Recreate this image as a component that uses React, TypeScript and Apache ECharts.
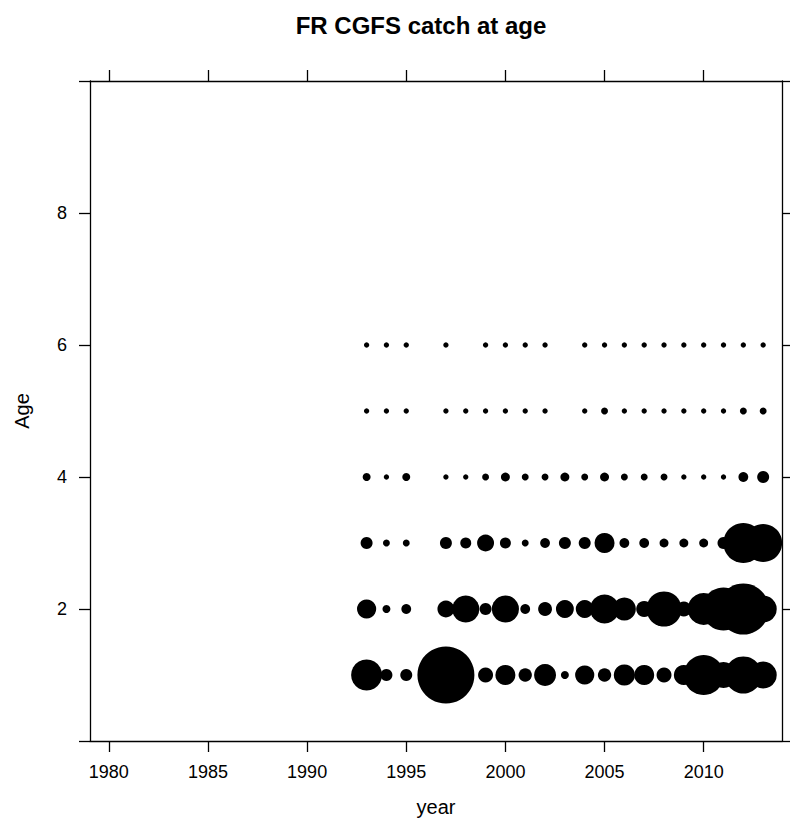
import React, { useEffect, useRef } from "react";
import * as echarts from "echarts";

// Survey years (1996 has no survey) and catch-at-age index per age class
const years = [1993, 1994, 1995, 1996, 1997, 1998, 1999, 2000, 2001, 2002, 2003, 2004, 2005, 2006, 2007, 2008, 2009, 2010, 2011, 2012, 2013];
const ages = [1, 2, 3, 4, 5, 6];
const age1 = [60, 9, 9, null, 203, 9, 14, 25, 11, 30, 4, 23, 11, 28, 25, 14, 25, 100, 42, 86, 46];
const age2 = [23, 4, 6, null, 18, 46, 9, 46, 6, 12, 20, 20, 53, 33, 16, 77, 14, 64, 116, 163, 46];
const age3 = [9, 3, 3, null, 9, 7.5, 18, 7.5, 3, 6, 9, 9, 25, 6, 6, 5, 5, 5, 9, 100, 90];
const age4 = [4, 1.8, 4, null, 1.8, 1.8, 3, 5, 3, 3, 5, 3, 5, 3, 3, 3, 1.8, 1.8, 1.8, 6, 9];
const age5 = [1.8, 1.8, 1.8, null, 1.8, 1.8, 1.8, 1.8, 1.8, 1.8, null, 1.8, 3, 1.8, 1.8, 1.8, 1.8, 1.8, 1.8, 3, 3];
const age6 = [1.8, 1.8, 1.8, null, 1.8, null, 1.8, 1.8, 1.8, 1.8, null, 1.8, 1.8, 1.8, 1.8, 1.8, 1.8, 1.8, 1.8, 1.8, 1.8];

const xTicks = [1980, 1985, 1990, 1995, 2000, 2005, 2010];
const yTicks = [0, 2, 4, 6, 8, 10];
const yLabels = [2, 4, 6, 8];

export default function App() {
  const ref = useRef<HTMLDivElement>(null);

  useEffect(() => {
    document.body.style.margin = "0";
    if (!ref.current) return;
    const chart = echarts.init(ref.current, undefined, { renderer: "svg" });

    const rows = [age1, age2, age3, age4, age5, age6];
    const points: number[][] = [];
    rows.forEach((row, i) => {
      row.forEach((v, j) => {
        if (v != null) points.push([years[j], ages[i], v]);
      });
    });

    const font = "'Liberation Sans', Arial, sans-serif";
    const line = { lineStyle: { color: "#000", width: 1.3 } };
    const tick = { show: true, inside: false, length: 11, lineStyle: { color: "#000", width: 1.3 } };

    chart.setOption({
      animation: false,
      backgroundColor: "#fff",
      title: {
        text: "FR CGFS catch at age",
        left: 416,
        top: 8,
        textAlign: "center",
        textStyle: { fontFamily: font, fontSize: 24, fontWeight: "bold", color: "#000" },
      },
      grid: { left: 90, top: 81, width: 692, height: 660, show: false },
      xAxis: [
        {
          type: "value",
          position: "bottom",
          min: 1979.05,
          max: 2013.95,
          name: "year",
          nameLocation: "middle",
          nameGap: 56,
          nameTextStyle: { fontFamily: font, fontSize: 20, color: "#000" },
          axisLine: { show: true, onZero: false, ...line },
          axisTick: { ...tick, customValues: xTicks },
          axisLabel: {
            customValues: xTicks,
            formatter: (v: number) => String(v),
            margin: 22,
            fontFamily: font,
            fontSize: 18,
            color: "#000",
          },
          splitLine: { show: false },
        },
        {
          type: "value",
          position: "top",
          min: 1979.05,
          max: 2013.95,
          axisLine: { show: true, onZero: false, ...line },
          axisTick: { ...tick, customValues: xTicks },
          axisLabel: { show: false },
          splitLine: { show: false },
        },
      ],
      yAxis: [
        {
          type: "value",
          position: "left",
          min: 0,
          max: 10,
          name: "Age",
          nameLocation: "middle",
          nameGap: 58,
          nameTextStyle: { fontFamily: font, fontSize: 20, color: "#000" },
          axisLine: { show: true, onZero: false, ...line },
          axisTick: { ...tick, customValues: yTicks },
          axisLabel: { customValues: yLabels, margin: 23, fontFamily: font, fontSize: 18, color: "#000" },
          splitLine: { show: false },
        },
        {
          type: "value",
          position: "right",
          min: 0,
          max: 10,
          axisLine: { show: true, onZero: false, ...line },
          axisTick: { ...tick, customValues: yTicks },
          axisLabel: { show: false },
          splitLine: { show: false },
        },
      ],
      series: [
        {
          type: "scatter",
          xAxisIndex: 0,
          yAxisIndex: 0,
          data: points,
          symbol: "circle",
          symbolSize: (d: number[]) => 4 * Math.sqrt(d[2]),
          itemStyle: { color: "#000", opacity: 1 },
          silent: true,
        },
      ],
    });

    return () => chart.dispose();
  }, []);

  return <div ref={ref} style={{ width: 790, height: 822 }} />;
}
